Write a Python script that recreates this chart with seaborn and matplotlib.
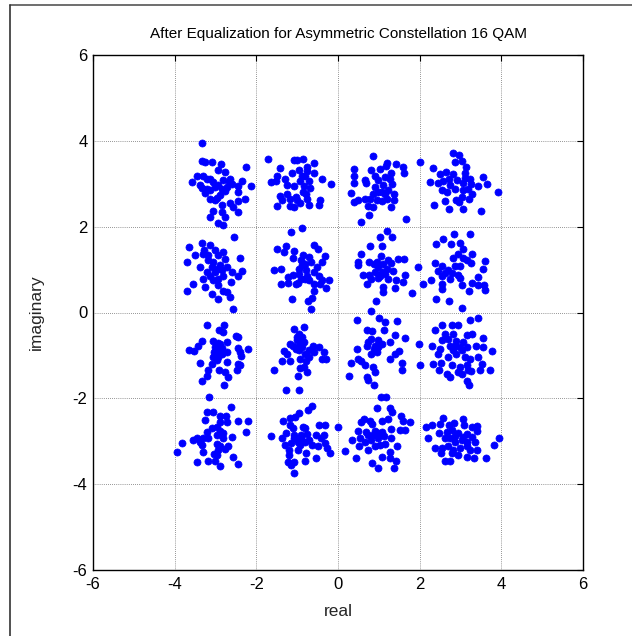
"""
Scatter of received 16-QAM symbols after equalization (asymmetric constellation)
"""

import pandas as pd
import matplotlib.pyplot as plt
import seaborn as sns
from matplotlib.lines import Line2D

# points, one list per constellation cluster (real, imag)
c_m3_p3 = [(-3.33, 3.95), (-3.34, 3.54), (-3.26, 3.50), (-3.08, 3.50), (-2.86, 3.46), (-2.25, 3.40),
           (-3.45, 3.17), (-3.58, 3.05), (-3.30, 3.19), (-3.22, 3.11), (-3.05, 3.03), (-2.95, 3.31),
           (-2.77, 3.27), (-2.81, 3.08), (-2.64, 3.11), (-2.60, 3.00), (-2.35, 3.06), (-2.44, 2.94),
           (-3.32, 2.91), (-3.26, 2.78), (-3.14, 2.85), (-2.85, 2.88), (-2.72, 2.92), (-2.44, 2.80),
           (-3.14, 2.65), (-3.01, 2.61), (-2.85, 2.50), (-2.64, 2.54), (-2.46, 2.60), (-2.27, 2.64),
           (-2.58, 2.45), (-2.44, 2.35), (-3.05, 2.36), (-2.85, 2.35), (-3.14, 2.22), (-2.77, 2.23),
           (-2.93, 2.09), (-2.81, 2.04), (-2.14, 2.95), (-3.14, 3.12), (-3.01, 2.93), (-2.89, 2.74),
           (-2.93, 2.97), (-2.68, 3.05), (-2.77, 2.82), (-2.97, 2.67), (-3.38, 2.98), (-3.22, 2.87)]
c_m1_p3 = [(-1.72, 3.58), (-1.41, 3.37), (-1.08, 3.55), (-1.00, 3.55), (-0.85, 3.58), (-0.60, 3.48),
           (-0.77, 3.40), (-1.49, 3.18), (-1.65, 3.04), (-1.53, 3.06), (-1.29, 3.12), (-1.13, 3.25),
           (-0.96, 3.33), (-0.75, 3.29), (-0.59, 3.25), (-0.38, 3.12), (-0.17, 2.99), (-1.25, 2.98),
           (-1.08, 2.95), (-0.92, 3.06), (-0.83, 2.95), (-0.71, 3.06), (-1.41, 2.72), (-1.25, 2.77),
           (-1.17, 2.65), (-1.04, 2.68), (-0.79, 2.77), (-0.75, 2.65), (-0.43, 2.63), (-1.49, 2.49),
           (-1.17, 2.49), (-1.08, 2.46), (-0.93, 2.54), (-0.71, 2.50), (-0.46, 2.50), (-0.89, 3.17),
           (-0.81, 3.17), (-0.69, 2.90), (-0.85, 2.81), (-1.00, 2.62), (-1.37, 2.62)]
c_p1_p3 = [(0.85, 3.65), (0.38, 3.34), (0.38, 3.17), (0.38, 3.02), (0.32, 2.78), (0.38, 2.58),
           (0.48, 2.61), (0.66, 3.09), (0.68, 3.02), (0.82, 3.32), (0.91, 3.19), (1.03, 3.34),
           (1.19, 3.48), (1.17, 3.42), (1.42, 3.46), (1.60, 3.40), (1.62, 3.26), (1.31, 3.26),
           (1.15, 3.15), (0.97, 3.08), (0.91, 2.92), (1.11, 2.96), (1.33, 3.00), (1.23, 2.85),
           (1.07, 2.81), (1.38, 2.77), (1.36, 2.62), (0.66, 2.65), (0.78, 2.65), (0.95, 2.62),
           (1.07, 2.60), (1.19, 2.65), (0.74, 2.48), (0.86, 2.45), (1.31, 2.46), (0.76, 2.27),
           (0.56, 2.12), (1.67, 2.18), (2.01, 3.50), (0.99, 2.81), (1.15, 2.77), (0.86, 2.77),
           (1.27, 3.12)]
c_p3_p3 = [(2.81, 3.71), (2.97, 3.66), (3.03, 3.54), (2.87, 3.50), (2.33, 3.37), (2.50, 3.22),
           (2.64, 3.27), (2.82, 3.23), (3.13, 3.38), (3.11, 3.25), (3.12, 3.14), (2.25, 3.03),
           (2.46, 3.02), (2.58, 3.06), (2.72, 3.11), (2.74, 2.98), (2.91, 3.09), (3.06, 3.02),
           (3.23, 3.12), (3.26, 3.00), (3.56, 3.15), (3.64, 3.00), (3.44, 2.94), (2.54, 2.86),
           (2.66, 2.81), (2.87, 2.88), (3.07, 2.86), (3.19, 2.88), (3.29, 2.75), (3.03, 2.70),
           (3.21, 2.65), (2.90, 2.62), (2.62, 2.60), (2.96, 2.58), (2.36, 2.50), (2.73, 2.42),
           (3.07, 2.42), (3.50, 2.36), (3.93, 2.81)]

c_m3_p1 = [(-2.54, 1.76), (-3.65, 1.53), (-3.32, 1.63), (-3.14, 1.58), (-3.51, 1.35), (-3.70, 1.18),
           (-3.28, 1.45), (-3.30, 1.37), (-3.01, 1.45), (-2.81, 1.41), (-2.95, 1.33), (-2.77, 1.25),
           (-3.18, 1.22), (-3.05, 1.18), (-2.89, 1.10), (-2.72, 1.06), (-2.60, 0.94), (-2.40, 1.27),
           (-2.35, 0.96), (-2.44, 0.85), (-3.38, 1.06), (-3.21, 0.94), (-3.30, 0.78), (-3.14, 0.86),
           (-3.01, 0.94), (-2.93, 0.78), (-2.82, 0.86), (-2.62, 0.72), (-3.55, 0.67), (-3.70, 0.49),
           (-3.26, 0.59), (-3.09, 0.43), (-2.93, 0.63), (-2.81, 0.51), (-2.72, 0.47), (-2.93, 0.31),
           (-2.64, 0.35), (-2.57, 0.09), (-3.09, 1.06), (-2.97, 1.02), (-2.85, 0.98), (-3.05, 0.75),
           (-3.18, 1.33)]
c_m1_p1 = [(-0.88, 1.96), (-1.16, 1.88), (-1.28, 1.55), (-1.50, 1.49), (-1.33, 1.40), (-1.07, 1.43),
           (-0.86, 1.33), (-0.58, 1.58), (-0.50, 1.49), (-0.70, 1.29), (-0.90, 1.22), (-0.82, 1.14),
           (-0.66, 1.18), (-1.11, 1.27), (-0.33, 1.32), (-0.39, 1.18), (-0.52, 1.06), (-1.56, 0.98),
           (-1.39, 1.02), (-0.95, 1.02), (-0.79, 0.98), (-0.58, 0.94), (-0.46, 0.86), (-1.11, 0.88),
           (-0.95, 0.90), (-1.23, 0.82), (-1.40, 0.67), (-1.22, 0.69), (-1.04, 0.67), (-0.99, 0.69),
           (-0.81, 0.78), (-0.70, 0.75), (-0.58, 0.67), (-0.45, 0.67), (-0.38, 0.75), (-0.21, 0.75),
           (-0.29, 0.56), (-0.58, 0.49), (-1.13, 0.31), (-0.74, 0.27), (-0.63, 0.33), (-0.67, 0.09),
           (-0.88, 1.10), (-0.76, 0.86), (-0.91, 0.78)]
c_p1_p1 = [(1.19, 1.90), (1.33, 1.76), (1.03, 1.76), (0.78, 1.55), (1.07, 1.55), (0.56, 1.37),
           (0.50, 1.18), (0.50, 1.10), (0.60, 0.88), (0.76, 1.18), (0.89, 1.14), (1.05, 1.31),
           (0.99, 1.06), (1.11, 1.14), (1.23, 1.22), (1.30, 1.15), (1.48, 1.24), (1.62, 1.24),
           (0.91, 0.94), (1.07, 0.94), (1.19, 1.02), (1.35, 0.96), (0.77, 0.88), (0.82, 0.78),
           (0.70, 0.67), (0.99, 0.80), (1.23, 0.78), (1.64, 0.88), (1.42, 0.75), (1.60, 0.71),
           (1.11, 0.60), (1.09, 0.48), (1.40, 0.56), (1.82, 0.45), (0.93, 0.27), (0.82, 0.04),
           (1.95, 1.07), (0.95, 1.18), (1.15, 0.90), (1.03, 0.86)]
c_p3_p1 = [(2.58, 1.71), (2.84, 1.84), (3.23, 1.84), (2.39, 1.59), (2.77, 1.59), (2.99, 1.63),
           (3.05, 1.49), (2.93, 1.37), (3.27, 1.37), (2.81, 1.27), (3.07, 1.27), (3.17, 1.22),
           (3.26, 1.16), (3.60, 1.19), (3.56, 1.02), (2.37, 1.16), (2.54, 1.08), (2.70, 1.00),
           (2.87, 1.08), (2.99, 1.08), (2.46, 0.96), (2.62, 0.92), (2.78, 0.92), (2.95, 0.88),
           (2.54, 0.86), (2.74, 0.78), (2.99, 0.80), (3.42, 0.82), (2.09, 0.67), (2.27, 0.75),
           (2.54, 0.67), (2.55, 0.55), (3.03, 0.63), (3.27, 0.68), (3.44, 0.65), (3.58, 0.65),
           (3.60, 0.53), (3.22, 0.49), (2.40, 0.31), (2.73, 0.27), (3.03, 0.10)]

c_m3_m1 = [(-3.22, -0.30), (-2.78, -0.30), (-2.91, -0.41), (-2.81, -0.45), (-2.50, -0.55), (-2.46, -0.57),
           (-3.65, -0.87), (-3.53, -0.90), (-3.42, -0.77), (-3.32, -0.66), (-3.05, -0.66), (-2.93, -0.71),
           (-2.72, -0.69), (-3.01, -0.80), (-2.85, -0.82), (-2.72, -0.92), (-3.03, -0.92), (-2.90, -0.96),
           (-2.46, -0.82), (-2.21, -0.84), (-2.40, -0.92), (-2.38, -1.02), (-3.38, -1.18), (-3.09, -1.21),
           (-2.97, -1.10), (-2.72, -1.16), (-2.44, -1.20), (-2.40, -1.23), (-2.48, -1.34), (-3.18, -1.35),
           (-2.91, -1.35), (-2.77, -1.39), (-3.21, -1.49), (-3.34, -1.60), (-2.70, -1.51), (-2.78, -1.68),
           (-3.17, -1.96), (-2.93, -1.04), (-2.85, -0.96), (-2.97, -0.88), (-2.89, -0.73), (-3.05, -1.04)]
c_m1_m1 = [(-1.08, -0.38), (-0.84, -0.34), (-0.96, -0.51), (-0.88, -0.57), (-1.00, -0.65), (-0.92, -0.69),
           (-0.84, -0.69), (-1.17, -0.73), (-1.04, -0.84), (-0.96, -0.88), (-1.33, -0.90), (-1.25, -0.96),
           (-1.37, -1.12), (-1.17, -1.12), (-0.80, -0.96), (-0.72, -0.88), (-0.62, -0.77), (-0.47, -0.80),
           (-0.35, -0.92), (-0.29, -1.08), (-0.39, -1.08), (-0.60, -0.91), (-0.92, -1.08), (-0.72, -1.04),
           (-0.79, -1.12), (-1.56, -1.34), (-0.94, -1.29), (-0.84, -1.27), (-0.76, -1.38), (-0.98, -1.47),
           (-1.28, -1.80), (-0.95, -1.80), (-1.09, -0.77), (-0.96, -0.77), (-0.88, -0.80), (-1.00, -0.57)]
c_p1_m1 = [(0.46, -0.18), (1.01, -0.12), (1.15, -0.22), (1.45, -0.20), (0.72, -0.41), (0.84, -0.43),
           (1.13, -0.41), (1.40, -0.52), (1.64, -0.59), (0.82, -0.61), (0.99, -0.63), (1.27, -0.69),
           (0.72, -0.77), (0.91, -0.77), (1.07, -0.73), (0.46, -0.84), (0.81, -0.96), (0.95, -0.92),
           (1.40, -0.96), (1.50, -0.90), (0.48, -1.08), (0.56, -1.12), (1.27, -1.08), (1.56, -1.18),
           (0.32, -1.18), (0.66, -1.23), (0.85, -1.27), (1.56, -1.34), (0.91, -1.39), (0.27, -1.47),
           (0.70, -1.51), (0.74, -1.57), (0.87, -1.68), (1.05, -1.96), (1.17, -1.96), (1.98, -0.73),
           (2.01, -1.23), (0.87, -0.84), (0.99, -0.80), (0.74, -0.69)]
c_p3_m1 = [(3.23, -0.18), (3.42, -0.12), (2.55, -0.30), (2.78, -0.30), (2.95, -0.30), (2.38, -0.41),
           (2.62, -0.49), (2.82, -0.51), (3.15, -0.53), (3.27, -0.51), (3.56, -0.59), (2.54, -0.65),
           (2.70, -0.61), (2.90, -0.66), (3.07, -0.69), (2.31, -0.79), (2.50, -0.84), (2.74, -0.79),
           (2.99, -0.80), (3.15, -0.80), (3.37, -0.77), (3.56, -0.80), (3.78, -0.90), (2.46, -0.96),
           (2.70, -1.04), (2.90, -0.96), (3.11, -1.04), (3.23, -1.08), (3.42, -1.04), (2.33, -1.20),
           (2.52, -1.18), (2.78, -1.23), (2.99, -1.27), (3.17, -1.23), (3.52, -1.20), (2.47, -1.35),
           (2.66, -1.43), (2.74, -1.51), (2.95, -1.39), (3.03, -1.43), (3.19, -1.35), (3.26, -1.36),
           (3.48, -1.35), (3.72, -1.34), (3.17, -1.60), (3.21, -1.68), (2.87, -0.77), (3.03, -0.88),
           (2.82, -0.88)]

c_m3_m3 = [(-2.62, -2.21), (-3.22, -2.31), (-3.07, -2.31), (-2.89, -2.40), (-2.74, -2.40), (-3.26, -2.50),
           (-2.90, -2.54), (-2.72, -2.56), (-2.46, -2.53), (-2.21, -2.53), (-2.25, -2.79), (-3.09, -2.68),
           (-2.97, -2.66), (-2.89, -2.76), (-2.81, -2.81), (-3.21, -2.79), (-2.60, -2.89), (-3.56, -2.97),
           (-3.46, -2.93), (-3.38, -3.01), (-3.30, -2.93), (-3.18, -2.93), (-3.81, -3.03), (-3.94, -3.26),
           (-3.34, -3.09), (-3.30, -3.24), (-2.96, -3.07), (-2.89, -3.12), (-2.77, -3.18), (-2.69, -3.10),
           (-3.04, -3.30), (-2.96, -3.33), (-2.58, -3.36), (-3.45, -3.49), (-3.19, -3.46), (-3.02, -3.47),
           (-2.90, -3.57), (-2.46, -3.53), (-2.81, -2.93), (-2.97, -2.86), (-2.93, -3.20)]
c_m1_m3 = [(-0.96, -2.35), (-0.73, -2.27), (-0.63, -2.19), (-1.17, -2.45), (-1.06, -2.43), (-1.34, -2.53),
           (-1.18, -2.62), (-1.10, -2.70), (-0.86, -2.66), (-0.81, -2.70), (-0.47, -2.62), (-0.33, -2.62),
           (0.01, -2.67), (-1.63, -2.87), (-1.37, -2.93), (-1.28, -2.81), (-1.08, -2.85), (-0.91, -2.85),
           (-0.75, -2.84), (-0.55, -2.85), (-0.42, -2.93), (-0.34, -2.85), (-1.29, -3.09), (-1.15, -3.05),
           (-0.98, -3.01), (-0.82, -3.01), (-0.64, -3.09), (-0.49, -3.12), (-0.32, -3.05), (-1.19, -3.20),
           (-0.98, -3.20), (-0.79, -3.28), (-0.28, -3.15), (-0.20, -3.28), (-1.21, -3.33), (-1.22, -3.49),
           (-1.08, -3.49), (-1.14, -3.55), (-0.81, -3.46), (-0.55, -3.40), (-1.08, -3.74), (-1.08, -2.93),
           (-0.91, -2.93), (-0.71, -2.97), (-0.94, -3.09)]
c_p1_m3 = [(0.96, -2.23), (1.27, -2.23), (1.33, -2.31), (1.54, -2.40), (0.56, -2.54), (0.64, -2.47),
           (0.78, -2.53), (0.84, -2.60), (1.07, -2.53), (1.22, -2.47), (1.60, -2.53), (1.76, -2.56),
           (0.50, -2.76), (0.69, -2.78), (0.74, -2.85), (0.91, -2.76), (1.07, -2.78), (1.30, -2.71),
           (1.52, -2.74), (1.64, -2.74), (0.35, -2.97), (0.54, -2.93), (0.65, -3.01), (0.82, -2.97),
           (0.97, -2.93), (1.13, -2.87), (1.30, -2.93), (0.16, -3.22), (0.51, -3.12), (0.74, -3.20),
           (0.91, -3.12), (1.03, -3.09), (1.15, -3.07), (1.44, -3.10), (1.27, -3.24), (0.43, -3.40),
           (1.07, -3.36), (0.84, -3.51), (0.99, -3.63), (1.27, -3.40), (1.41, -3.46), (1.36, -3.63),
           (0.86, -2.85), (0.99, -2.81)]
c_p3_m3 = [(2.58, -2.45), (2.15, -2.66), (2.31, -2.62), (2.50, -2.60), (2.73, -2.62), (2.85, -2.58),
           (3.05, -2.47), (3.09, -2.62), (3.29, -2.66), (3.40, -2.64), (3.40, -2.76), (2.21, -2.93),
           (2.47, -2.81), (2.66, -2.78), (2.78, -2.74), (2.95, -2.81), (3.15, -2.84), (3.27, -2.89),
           (2.62, -2.93), (2.74, -2.93), (2.87, -3.01), (3.03, -2.97), (3.15, -3.01), (3.36, -3.01),
           (3.83, -3.09), (3.94, -2.93), (2.38, -3.16), (2.54, -3.16), (2.70, -3.12), (2.82, -3.20),
           (2.99, -3.15), (3.15, -3.12), (3.23, -3.20), (3.40, -3.20), (2.52, -3.28), (2.78, -3.28),
           (2.95, -3.33), (3.15, -3.36), (3.34, -3.40), (3.62, -3.40), (2.62, -3.46), (2.74, -3.46),
           (2.87, -2.87), (3.07, -2.90)]

clusters = [c_m3_p3, c_m1_p3, c_p1_p3, c_p3_p3,
            c_m3_p1, c_m1_p1, c_p1_p1, c_p3_p1,
            c_m3_m1, c_m1_m1, c_p1_m1, c_p3_m1,
            c_m3_m3, c_m1_m3, c_p1_m3, c_p3_m3]

ticks = [-6, -4, -2, 0, 2, 4, 6]

df = pd.DataFrame([p for c in clusters for p in c], columns=["real", "imaginary"])

sns.set_style("white")
plt.rcParams['font.family'] = ['Liberation Sans', 'DejaVu Sans']
plt.rcParams['axes.unicode_minus'] = False

fig = plt.figure(figsize=(6.32, 6.36), dpi=100)
ax = fig.add_axes([93 / 632, 1 - 570 / 636, 490 / 632, 515 / 636])

sns.scatterplot(data=df, x="real", y="imaginary", ax=ax, color="#0000ff",
                edgecolor="#0000ff", linewidth=0.5, s=26, zorder=3)

ax.set_xlim(-6, 6)
ax.set_ylim(-6, 6)
ax.set_xticks(ticks)
ax.set_yticks(ticks)
ax.grid(True, color="black", linestyle=(0, (1, 2)), linewidth=0.5, alpha=0.8)
ax.tick_params(direction="in", length=4, width=0.8, top=True, right=True,
               labelsize=12, colors="black")
ax.tick_params(axis="x", pad=5)
ax.tick_params(axis="y", pad=4)
for sp in ax.spines.values():
    sp.set_color("black")
    sp.set_linewidth(1.0)

ax.set_title("After Equalization for Asymmetric Constellation 16 QAM", fontsize=11,
             pad=12, color="black")
ax.set_xlabel("real", fontsize=12.5, labelpad=9)
ax.set_ylabel("imaginary", fontsize=12.5, labelpad=21)

# outer frame of the screenshot (top and left edges only)
fig.add_artist(Line2D([9.5 / 632, 1], [1 - 4.5 / 636] * 2, transform=fig.transFigure, color="#555555", lw=1.2))
fig.add_artist(Line2D([9.5 / 632] * 2, [0, 1 - 4.5 / 636], transform=fig.transFigure, color="#333333", lw=1.2))

fig.savefig("out.png", dpi=100)
print("Saved out.png")
